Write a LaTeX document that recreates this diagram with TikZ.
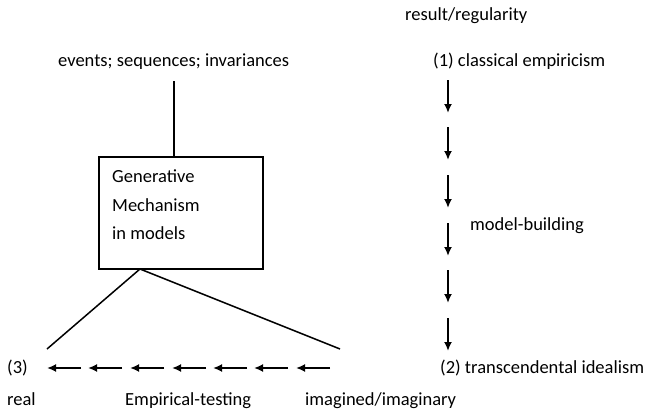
\documentclass[tikz,border=0pt]{standalone}
\usepackage{fontspec}
\setmainfont{Carlito}
\usetikzlibrary{arrows.meta}
\begin{document}
\begin{tikzpicture}[x=1pt,y=-1pt,
  lbl/.style={inner sep=0pt, font=\fontsize{18.5}{22}\selectfont, anchor=base west},
  arr/.style={line width=2pt, -{Latex[length=9pt,width=8pt]}},
  ln/.style={line width=1.5pt}]
\useasboundingbox (0,0) rectangle (649,415);
\node[lbl] (res) at (405,20) {result/regularity};
\node[lbl] (emp) at (433,66) {(1) classical empiricism};
\node[lbl] (ev) at (58,66) {events; sequences; invariances};
\node[lbl] (mb) at (470,230) {model-building};
\node[lbl] (three) at (7,373) {(3)};
\node[lbl] (real) at (7,405) {real};
\node[lbl] (et) at (125,405) {Empirical-testing};
\node[lbl] (im) at (305,405) {imagined/imaginary};
\node[lbl] (two) at (440,373) {(2) transcendental idealism};
\node[draw, line width=1.5pt, minimum width=164pt, minimum height=112pt, inner sep=0pt] (box) at (181,213) {};
\node[inner sep=0pt, anchor=north west, align=left, font=\fontsize{18.5}{28.5}\selectfont] (bt) at (112,170) {Generative\\Mechanism\\in models};
\coordinate (top) at (174,81);
\draw[ln] (top) -- (box.north -| top);
\coordinate (apex) at (140,269);
\coordinate (l) at (47,349);
\coordinate (r) at (340,349);
\draw[ln] (l) -- (apex) -- (r);
\foreach \y in {80,127,175,223,270,318}{
  \coordinate (vs\y) at (448,\y);
  \coordinate (ve\y) at (448,\y+33);
  \draw[arr] (vs\y) -- (ve\y);
}
\foreach \x in {47,88,130,172,213,254,296}{
  \coordinate (hs\x) at (\x+34,368);
  \coordinate (he\x) at (\x,368);
  \draw[arr] (hs\x) -- (he\x);
}
\end{tikzpicture}
\end{document}
